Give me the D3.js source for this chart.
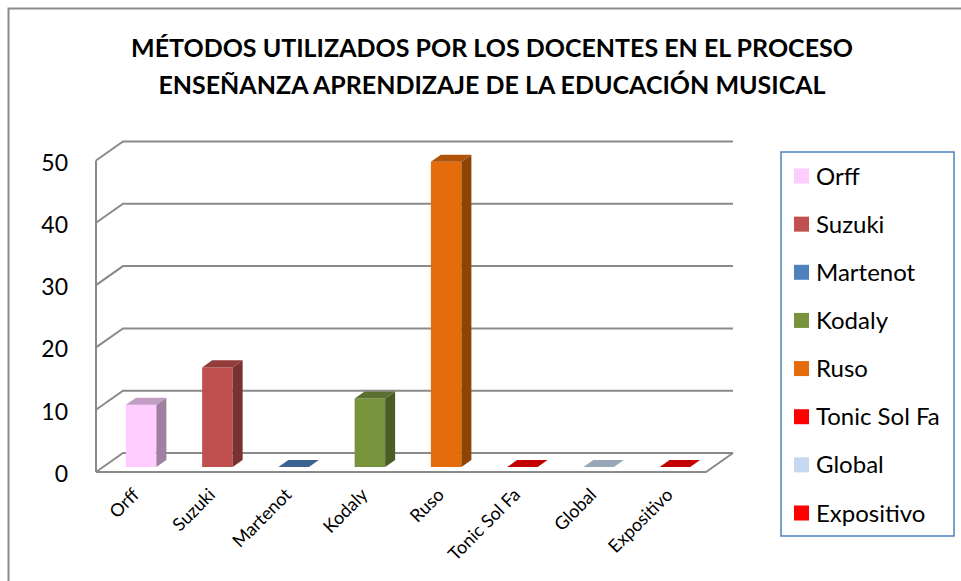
<!DOCTYPE html>
<html>
<head>
<meta charset="utf-8">
<script src="https://cdn.jsdelivr.net/npm/d3@7/dist/d3.min.js"></script>
<style>
  body { margin: 0; background: #fff; }
  svg { display: block; font-family: Lato, "Open Sans", sans-serif; }
</style>
</head>
<body>
<svg id="chart" width="961" height="581"></svg>
<script>
// chart data
var categories = ["Orff", "Suzuki", "Martenot", "Kodaly", "Ruso", "Tonic Sol Fa", "Global", "Expositivo"];
var values = [10, 16, 0, 11, 49, 0, 0, 0];
var yTicks = [0, 10, 20, 30, 40, 50];
var titleLines = ["MÉTODOS UTILIZADOS POR LOS DOCENTES EN EL PROCESO",
                  "ENSEÑANZA APRENDIZAJE DE LA EDUCACIÓN MUSICAL"];
var palette = ["#FFCCFF", "#C0504D", "#4F81BD", "#77933C", "#E46C0A", "#FF0000", "#C6D9F1", "#FF0000"];

var svg = d3.select("#chart");

// outer frame
svg.append("rect")
    .attr("x", 8.5).attr("y", 8.5)
    .attr("width", 1000).attr("height", 1000)
    .attr("fill", "none")
    .attr("stroke", "#8a8a8a")
    .attr("stroke-width", 2);

// title
svg.append("g").selectAll("text")
    .data(titleLines)
    .enter().append("text")
    .attr("x", 492)
    .attr("y", function(d, i) { return 57 + i * 37; })
    .attr("text-anchor", "middle")
    .attr("font-size", 25)
    .attr("font-weight", "bold")
    .attr("fill", "#000")
    .text(function(d) { return d; });

// 3d geometry: front plane scales + depth offset
var x = d3.scaleBand().domain(categories).range([96, 706]).paddingInner(0.6).paddingOuter(0.3);
var y = d3.scaleLinear().domain([0, 50]).range([472, 160.5]);
var depthX = d3.scaleLinear().domain([0, 1]).range([0, 27]);
var depthY = d3.scaleLinear().domain([0, 1]).range([0, -19]);
var floorRight = 706;
var barFront = 0.26, barBack = 0.63;

function pt(px, py, z) { return [px + depthX(z), py + depthY(z)]; }

var grid = svg.append("g")
    .attr("fill", "none")
    .attr("stroke", "#8a8a8a")
    .attr("stroke-width", 2);

// back wall gridlines (with the diagonal on the side wall)
grid.selectAll("path.gl")
    .data(yTicks)
    .enter().append("path")
    .attr("class", "gl")
    .attr("d", function(d) {
        return d3.line()([pt(96, y(d), 0), pt(96, y(d), 1), pt(floorRight, y(d), 1)]);
    });

// front left edge
grid.append("line")
    .attr("x1", 96).attr("x2", 96)
    .attr("y1", y(50)).attr("y2", y(0));

// floor outline
grid.append("path")
    .attr("d", d3.line()([pt(96, y(0), 0), pt(floorRight, y(0), 0), pt(floorRight, y(0), 1)]));

// y labels
svg.append("g").selectAll("text")
    .data(yTicks)
    .enter().append("text")
    .attr("x", 68)
    .attr("y", function(d) { return y(d) + 2; })
    .attr("dy", "0.35em")
    .attr("text-anchor", "end")
    .attr("font-size", 23)
    .attr("fill", "#000")
    .text(function(d) { return d; });

// bars
var bars = svg.append("g").selectAll("g")
    .data(categories)
    .enter().append("g");

bars.each(function(c, i) {
    var g = d3.select(this);
    var base = d3.rgb(palette[i]);
    var topCol = base.darker(0.75);
    var sideCol = base.darker(1.3);
    var x0 = x(c), x1 = x(c) + x.bandwidth();
    var yb = y(0), yt = y(values[i]);
    if (values[i] > 0) {
        g.append("path")
            .attr("d", d3.line()([pt(x0, yb, barFront), pt(x1, yb, barFront), pt(x1, yt, barFront), pt(x0, yt, barFront)]) + "Z")
            .attr("fill", base);
        g.append("path")
            .attr("d", d3.line()([pt(x1, yb, barFront), pt(x1, yb, barBack), pt(x1, yt, barBack), pt(x1, yt, barFront)]) + "Z")
            .attr("fill", sideCol);
    }
    g.append("path")
        .attr("d", d3.line()([pt(x0, yt, barFront), pt(x1, yt, barFront), pt(x1, yt, barBack), pt(x0, yt, barBack)]) + "Z")
        .attr("fill", topCol);
});

// x labels, rotated
svg.append("g").selectAll("text")
    .data(categories)
    .enter().append("text")
    .attr("transform", function(d) {
        return "translate(" + (x(d) + x.bandwidth() / 2 + 6) + "," + 496 + ") rotate(-45)";
    })
    .attr("text-anchor", "end")
    .attr("font-size", 18)
    .attr("fill", "#000")
    .text(function(d) { return d; });

// legend
var legend = svg.append("g");
legend.append("rect")
    .attr("x", 781).attr("y", 152)
    .attr("width", 173).attr("height", 384)
    .attr("fill", "#fff")
    .attr("stroke", "#4F81BD")
    .attr("stroke-width", 1.5);

var ly = d3.scalePoint().domain(categories).range([176, 513]);
var items = legend.selectAll("g.item")
    .data(categories)
    .enter().append("g")
    .attr("class", "item")
    .attr("transform", function(d) { return "translate(794," + ly(d) + ")"; });
items.append("rect")
    .attr("x", 0).attr("y", -7.5)
    .attr("width", 15).attr("height", 15)
    .attr("fill", function(d, i) { return palette[i]; });
items.append("text")
    .attr("x", 22)
    .attr("dy", "0.36em")
    .attr("font-size", 24)
    .attr("fill", "#000")
    .text(function(d) { return d; });
</script>
</body>
</html>
